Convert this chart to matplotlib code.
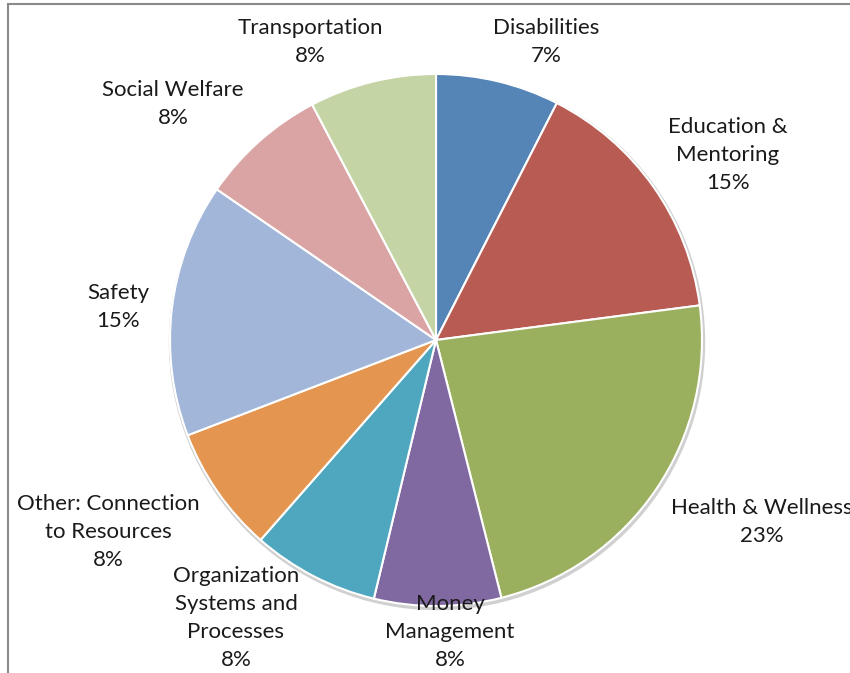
import matplotlib.pyplot as plt
from matplotlib.lines import Line2D

categories = ['Disabilities', 'Education &\nMentoring', 'Health & Wellness',
              'Money\nManagement', 'Organization\nSystems and\nProcesses',
              'Other: Connection\nto Resources', 'Safety', 'Social Welfare',
              'Transportation']
values = [7.5, 15.4, 23.1, 7.7, 7.7, 7.7, 15.4, 7.7, 7.7]
pct_labels = ['7%', '15%', '23%', '8%', '8%', '8%', '15%', '8%', '8%']
colors = ['#5584b6', '#b85b53', '#9bb05f', '#8068a0', '#4ea7be',
          '#e4954f', '#a2b6d9', '#d9a4a3', '#c4d4a4']

# label centres in pixel coords (x, y from top)
label_pos = [(546, 42), (728, 155), (762, 522), (450, 632), (236, 618),
             (108, 532), (118, 307), (173, 104), (310, 42)]

W, H = 850, 673
fig = plt.figure(figsize=(W / 100, H / 100), dpi=100)
ax = fig.add_axes([0, 0, 1, 1])

cx, cy, r = 436, H - 340, 266

# faint shadow rim
shadow = plt.Circle((cx + 1, cy - 2), r + 1.5, color='#d0d0d0', zorder=0)
ax.add_patch(shadow)

ax.pie(values, colors=colors, startangle=90, counterclock=False,
       center=(cx, cy), radius=r, frame=True,
       wedgeprops=dict(edgecolor='white', linewidth=1.5))
ax.set_xlim(0, W)
ax.set_ylim(0, H)
ax.set_aspect('equal')
ax.axis('off')

for cat, pct, (x, y) in zip(categories, pct_labels, label_pos):
    ax.text(x, H - y, f'{cat}\n{pct}', ha='center', va='center',
            fontsize=16, family='Lato', color='#1a1a1a', linespacing=1.5,
            zorder=5)

# chart frame (top and left edges visible)
fig.add_artist(Line2D([8 / W, 1], [1 - 4 / H, 1 - 4 / H], color='#8a8a8a',
                      linewidth=1.5, transform=fig.transFigure))
fig.add_artist(Line2D([8 / W, 8 / W], [0, 1 - 4 / H], color='#8a8a8a',
                      linewidth=1.5, transform=fig.transFigure))

fig.savefig('out.png', dpi=100)
